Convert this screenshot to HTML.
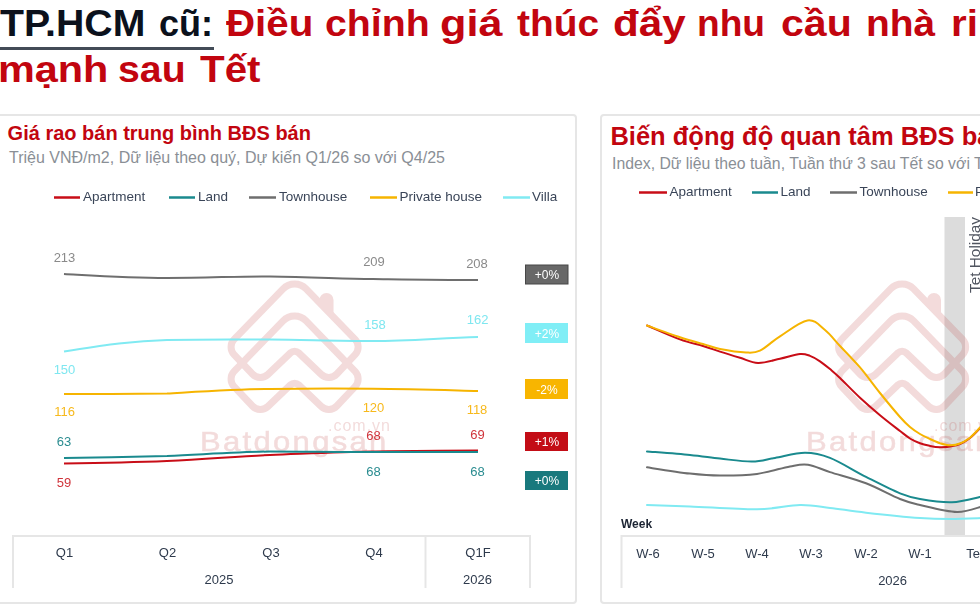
<!DOCTYPE html>
<html><head><meta charset="utf-8">
<style>
html,body{margin:0;padding:0;width:980px;height:613px;overflow:hidden;background:#fff;}
body{position:relative;font-family:"Liberation Sans",sans-serif;}
.w{position:absolute;white-space:nowrap;font-weight:700;font-size:36px;line-height:42px;transform-origin:0 0;}
.k{color:#0b111c;}
.r{color:#c2050f;}
.card{position:absolute;border:2px solid #e6e6e6;border-radius:4px;box-sizing:border-box;background:#fff;}
.t{position:absolute;white-space:nowrap;line-height:1.2;}
svg{position:absolute;left:0;top:0;}
</style></head><body>
<!-- Title -->
<div class="w k" style="left:0px;top:3px;transform:scaleX(1.09)">TP.HCM</div>
<div class="w k" style="left:159px;top:3px;">cũ:</div>
<div class="w r" style="left:226px;top:3px;transform:scaleX(1.12)">Điều</div>
<div class="w r" style="left:325px;top:3px;transform:scaleX(1.09)">chỉnh</div>
<div class="w r" style="left:440px;top:3px;transform:scaleX(1.2)">giá</div>
<div class="w r" style="left:517px;top:3px;transform:scaleX(1.08)">thúc</div>
<div class="w r" style="left:613px;top:3px;transform:scaleX(1.17)">đẩy</div>
<div class="w r" style="left:697px;top:3px;transform:scaleX(1.03)">nhu</div>
<div class="w r" style="left:781px;top:3px;transform:scaleX(1.14)">cầu</div>
<div class="w r" style="left:866px;top:3px;transform:scaleX(1.08)">nhà</div>
<div class="w r" style="left:951px;top:3px;transform:scaleX(1.12)">ri</div>
<div style="position:absolute;left:0;top:47px;width:214px;height:3px;background:#434b57"></div>
<div class="w r" style="left:-2px;top:49px;transform:scaleX(1.15)">mạnh</div>
<div class="w r" style="left:118px;top:49px;transform:scaleX(1.09)">sau</div>
<div class="w r" style="left:200px;top:49px;transform:scaleX(1.12)">Tết</div>

<!-- Cards -->
<div class="card" style="left:-4px;top:114px;width:581px;height:490px;"></div>
<div class="card" style="left:600px;top:114px;width:400px;height:490px;"></div>

<!-- Left card texts -->
<div class="t" style="left:7.6px;top:121px;font-size:20px;font-weight:700;color:#c2050f">Giá rao bán trung bình BĐS bán</div>
<div class="t" style="left:9px;top:148px;font-size:16px;color:#8a8f96">Triệu VNĐ/m2, Dữ liệu theo quý, Dự kiến Q1/26 so với Q4/25</div>

<!-- Right card texts -->
<div class="t" style="left:610.4px;top:120.5px;font-size:25.5px;font-weight:700;color:#c2050f">Biến động độ quan tâm BĐS bán</div>
<div class="t" style="left:612px;top:155px;font-size:15.8px;color:#8a8f96">Index, Dữ liệu theo tuần, Tuần thứ 3 sau Tết so với Tuần</div>

<svg width="980" height="613" viewBox="0 0 980 613" font-family="Liberation Sans, sans-serif">
  <defs>
    <g id="logo" fill="none" stroke="#c24d4d" stroke-width="7" stroke-linejoin="round">
      <path d="M283.1 288.9 A16.0 16.0 0 0 1 306.1 288.9 L355.1 339.4 A11.0 11.0 0 0 1 355.1 354.6 L336.8 374.0 A11.0 11.0 0 0 1 321.2 374.4 L298.7 352.9 A6.0 6.0 0 0 0 290.5 352.9 L268.0 374.4 A11.0 11.0 0 0 1 252.4 374.0 L234.1 354.6 A11.0 11.0 0 0 1 234.1 339.4 Z"/>
      <path d="M283.1 320.9 A16.0 16.0 0 0 1 306.1 320.9 L355.1 371.4 A11.0 11.0 0 0 1 355.1 386.6 L336.8 406.0 A11.0 11.0 0 0 1 321.2 406.4 L298.7 384.9 A6.0 6.0 0 0 0 290.5 384.9 L268.0 406.4 A11.0 11.0 0 0 1 252.4 406.0 L234.1 386.6 A11.0 11.0 0 0 1 234.1 371.4 Z"/>
      <path d="M319.5 303 V300 A7 7 0 0 1 333.5 300 V317 Z" fill="#c24d4d" stroke="none"/>
    </g>
  </defs>
  <!-- watermarks -->
  <rect x="944.5" y="217" width="20.5" height="320" fill="#dcdcdc"/>
  <g opacity="0.2" fill="#c24d4d">
    <use href="#logo"/>
    <g transform="translate(200 450.5) scale(1.15 1)"><text x="0" y="0" font-size="27" letter-spacing="2.0" stroke="#c24d4d" stroke-width="0.5">Batdongsan</text></g>
    <text x="328" y="431" font-size="16" textLength="62" lengthAdjust="spacing">.com.vn</text>
    <use href="#logo" transform="translate(607.5 0)"/>
    <g transform="translate(806 450.5) scale(1.15 1)"><text x="0" y="0" font-size="27" letter-spacing="2.0" stroke="#c24d4d" stroke-width="0.5">Batdongsan</text></g>
    <text x="934" y="431" font-size="16" textLength="62" lengthAdjust="spacing">.com.vn</text>
  </g>
<!-- left legend -->
  <g stroke-width="2.5">
    <line x1="54" y1="197.5" x2="80" y2="197.5" stroke="#c80d17"/>
    <line x1="169" y1="197.5" x2="195" y2="197.5" stroke="#1a8a8e"/>
    <line x1="249" y1="197.5" x2="276" y2="197.5" stroke="#6e6e6e"/>
    <line x1="370" y1="197.5" x2="397" y2="197.5" stroke="#f6b400"/>
    <line x1="503" y1="197.5" x2="530" y2="197.5" stroke="#80eaf2"/>
  </g>
  <g font-size="13.5" fill="#3a4558">
    <text x="83" y="201">Apartment</text>
    <text x="198" y="201">Land</text>
    <text x="279" y="201">Townhouse</text>
    <text x="399.5" y="201">Private house</text>
    <text x="532" y="201">Villa</text>
  </g>

  <!-- left chart lines -->
  <g fill="none" stroke-width="2" stroke-linecap="butt">
    <path d="M64 463.5 C100 463,130 462.5,167 461 C210 459,240 456,270 455 C310 453.5,340 452,373 451.5 C410 451,440 450.5,478 450.5" stroke="#c80d17"/>
    <path d="M64 458 C100 457.5,130 457,167 456 C210 454,240 452,270 451.5 C310 451.5,340 452.5,373 452 C410 452,440 452,478 452" stroke="#1a8a8e"/>
    <path d="M64 274 C100 276,130 278,167 278 C210 278,240 276,270 276.5 C310 277,340 278.5,373 279 C410 279.5,440 280,478 280" stroke="#6e6e6e"/>
    <path d="M64 394 C100 394,130 394,167 393.5 C210 391,240 389,270 389 C310 388.5,340 388.5,373 388.8 C410 389,440 390,478 391" stroke="#f6b400"/>
    <path d="M64 351.5 C100 346,130 341,167 340 C210 339,240 339.5,270 339.5 C310 340,340 341,373 341 C410 341,440 338,478 337" stroke="#80eaf2"/>
  </g>
  <!-- left data labels -->
  <g font-size="13" text-anchor="middle">
    <text x="64.5" y="262" fill="#8a8a8a">213</text>
    <text x="374" y="266" fill="#8a8a8a">209</text>
    <text x="477" y="268" fill="#8a8a8a">208</text>
    <text x="64.5" y="374" fill="#7fe7f0">150</text>
    <text x="375" y="329" fill="#7fe7f0">158</text>
    <text x="477.6" y="324" fill="#7fe7f0">162</text>
    <text x="64.7" y="416" fill="#f7b91c">116</text>
    <text x="373.5" y="411.5" fill="#f7b91c">120</text>
    <text x="477" y="414" fill="#f7b91c">118</text>
    <text x="64" y="446" fill="#2a8c90">63</text>
    <text x="373.5" y="476" fill="#2a8c90">68</text>
    <text x="477.6" y="476" fill="#2a8c90">68</text>
    <text x="64" y="487" fill="#d0343b">59</text>
    <text x="373.6" y="439.5" fill="#d0343b">68</text>
    <text x="477.6" y="439" fill="#d0343b">69</text>
  </g>
  <!-- badges -->
  <g>
    <rect x="525.5" y="265" width="42.5" height="19" fill="#686868" stroke="#474747" stroke-width="1"/>
    <rect x="525" y="323" width="43" height="20" fill="#80eef6"/>
    <rect x="525" y="379" width="43" height="20" fill="#f8b500"/>
    <rect x="525" y="432" width="43" height="19" fill="#c30d16"/>
    <rect x="525" y="471" width="43" height="19" fill="#19797d"/>
  </g>
  <g font-size="12" fill="#fff" text-anchor="middle">
    <text x="547" y="279">+0%</text>
    <text x="547" y="338">+2%</text>
    <text x="547" y="394">-2%</text>
    <text x="547" y="446">+1%</text>
    <text x="547" y="485">+0%</text>
  </g>
  <!-- left axis box -->
  <g fill="none" stroke="#e6e6e6" stroke-width="2">
    <path d="M13 588 V536 H530 V588"/>
    <path d="M425.5 536 V588"/>
  </g>
  <g font-size="13" fill="#2e3a4c" text-anchor="middle">
    <text x="64.5" y="557">Q1</text>
    <text x="167.5" y="557">Q2</text>
    <text x="271" y="557">Q3</text>
    <text x="374" y="557">Q4</text>
    <text x="478" y="557">Q1F</text>
    <text x="219" y="583.5">2025</text>
    <text x="477.5" y="583.5">2026</text>
  </g>

  <!-- right legend -->
  <g stroke-width="2.5">
    <line x1="639" y1="192.5" x2="667" y2="192.5" stroke="#c80d17"/>
    <line x1="752" y1="192.5" x2="778" y2="192.5" stroke="#1a8a8e"/>
    <line x1="830" y1="192.5" x2="857" y2="192.5" stroke="#6e6e6e"/>
    <line x1="948" y1="192.5" x2="973" y2="192.5" stroke="#f6b400"/>
  </g>
  <g font-size="13.5" fill="#3a4558">
    <text x="669.5" y="196">Apartment</text>
    <text x="780.5" y="196">Land</text>
    <text x="859.5" y="196">Townhouse</text>
    <text x="975" y="196">Private house</text>
  </g>
  <!-- Tet band -->
  
  <text transform="translate(979.5 293) rotate(-90)" font-size="15.5" fill="#505560" textLength="76" lengthAdjust="spacingAndGlyphs">Tet Holiday</text>

  <!-- right lines -->
  <g fill="none" stroke-width="2" stroke-linecap="round">
    <path d="M647.0 325.5 C652.5 327.8,670.7 336.0,680.0 339.4 C689.3 342.8,696.3 344.0,703.0 346.0 C709.7 348.0,713.8 349.6,720.0 351.6 C726.2 353.6,733.7 355.9,740.0 357.8 C746.3 359.7,751.3 362.8,758.0 363.0 C764.7 363.2,773.0 360.3,780.0 358.8 C787.0 357.3,795.0 354.5,800.0 354.0 C805.0 353.5,806.7 354.7,810.0 355.9 C813.3 357.1,816.7 359.1,820.0 361.3 C823.3 363.5,826.7 366.3,830.0 369.1 C833.3 371.9,835.0 373.2,840.0 378.0 C845.0 382.8,853.3 391.5,860.0 397.7 C866.7 403.9,873.3 409.6,880.0 415.2 C886.7 420.8,895.0 427.1,900.0 431.0 C905.0 434.9,906.7 436.4,910.0 438.5 C913.3 440.6,916.7 442.1,920.0 443.3 C923.3 444.5,926.7 445.2,930.0 445.9 C933.3 446.6,936.7 447.2,940.0 447.3 C943.3 447.4,946.7 447.1,950.0 446.5 C953.3 445.9,956.7 445.4,960.0 444.0 C963.3 442.6,966.3 441.0,970.0 438.0 C973.7 435.0,980.0 428.0,982.0 426.0" stroke="#c80d17"/>
    <path d="M647.0 451.4 C654.2 452.0,677.8 453.8,690.0 455.0 C702.2 456.2,709.7 457.5,720.0 458.6 C730.3 459.7,742.8 461.7,752.0 461.6 C761.2 461.5,766.2 459.4,775.0 457.9 C783.8 456.4,795.8 452.8,805.0 452.8 C814.2 452.8,819.8 453.9,830.0 457.9 C840.2 461.9,854.3 471.0,866.0 476.9 C877.7 482.8,891.0 489.7,900.0 493.4 C909.0 497.1,911.3 497.5,920.0 499.0 C928.7 500.5,941.7 502.6,952.0 502.2 C962.3 501.8,977.0 497.4,982.0 496.5" stroke="#1a8a8e"/>
    <path d="M647.0 467.3 C654.2 468.4,677.8 472.2,690.0 473.6 C702.2 475.0,708.8 475.6,720.0 475.6 C731.2 475.7,745.3 475.4,757.0 473.9 C768.7 472.4,781.5 467.9,790.0 466.4 C798.5 464.9,801.3 463.9,808.0 464.8 C814.7 465.8,820.3 469.0,830.0 472.1 C839.7 475.2,854.3 478.8,866.0 483.3 C877.7 487.8,891.0 495.4,900.0 499.0 C909.0 502.6,910.5 502.8,920.0 505.0 C929.5 507.2,946.7 511.8,957.0 512.0 C967.3 512.2,977.8 507.4,982.0 506.5" stroke="#6e6e6e"/>
    <path d="M647.0 325.5 C652.5 327.5,670.7 334.2,680.0 337.3 C689.3 340.4,696.3 342.1,703.0 344.0 C709.7 345.9,712.8 347.6,720.0 349.0 C727.2 350.4,739.3 352.2,746.0 352.5 C752.7 352.8,754.3 353.3,760.0 350.6 C765.7 347.9,772.1 341.3,780.0 336.3 C787.9 331.3,800.0 321.4,807.5 320.4 C815.0 319.3,819.6 325.7,825.0 330.0 C830.4 334.3,834.2 339.8,840.0 346.0 C845.8 352.2,853.3 359.6,860.0 367.4 C866.7 375.2,873.3 384.7,880.0 393.0 C886.7 401.3,895.0 411.3,900.0 417.0 C905.0 422.7,906.7 424.2,910.0 427.0 C913.3 429.8,916.7 432.0,920.0 434.0 C923.3 436.0,926.7 437.5,930.0 439.0 C933.3 440.5,936.7 442.1,940.0 443.2 C943.3 444.2,946.7 445.2,950.0 445.3 C953.3 445.4,956.7 444.8,960.0 443.5 C963.3 442.2,966.3 440.7,970.0 437.7 C973.7 434.7,980.0 427.5,982.0 425.5" stroke="#f6b400"/>
    <path d="M647.0 505.0 C654.2 505.2,671.7 505.7,690.0 506.4 C708.3 507.1,738.7 509.5,757.0 509.3 C775.3 509.1,787.8 505.2,800.0 505.0 C812.2 504.8,819.0 506.6,830.0 507.9 C841.0 509.2,851.0 511.0,866.0 512.7 C881.0 514.4,906.0 517.0,920.0 518.0 C934.0 519.0,939.7 519.0,950.0 519.0 C960.3 519.0,976.7 518.2,982.0 518.0" stroke="#80eaf2"/>
  </g>
  <text x="621" y="528" font-size="12" font-weight="700" fill="#1c2433">Week</text>
  <g fill="none" stroke="#e6e6e6" stroke-width="2">
    <path d="M621.5 588 V536 H982"/>
  </g>
  <g font-size="13" fill="#2e3a4c" text-anchor="middle">
    <text x="648" y="557.5">W-6</text>
    <text x="703" y="557.5">W-5</text>
    <text x="757" y="557.5">W-4</text>
    <text x="811" y="557.5">W-3</text>
    <text x="866" y="557.5">W-2</text>
    <text x="920" y="557.5">W-1</text>
    <text x="975" y="557.5">Tet</text>
    <text x="892.6" y="584.5">2026</text>
  </g>
</svg>
</body></html>
